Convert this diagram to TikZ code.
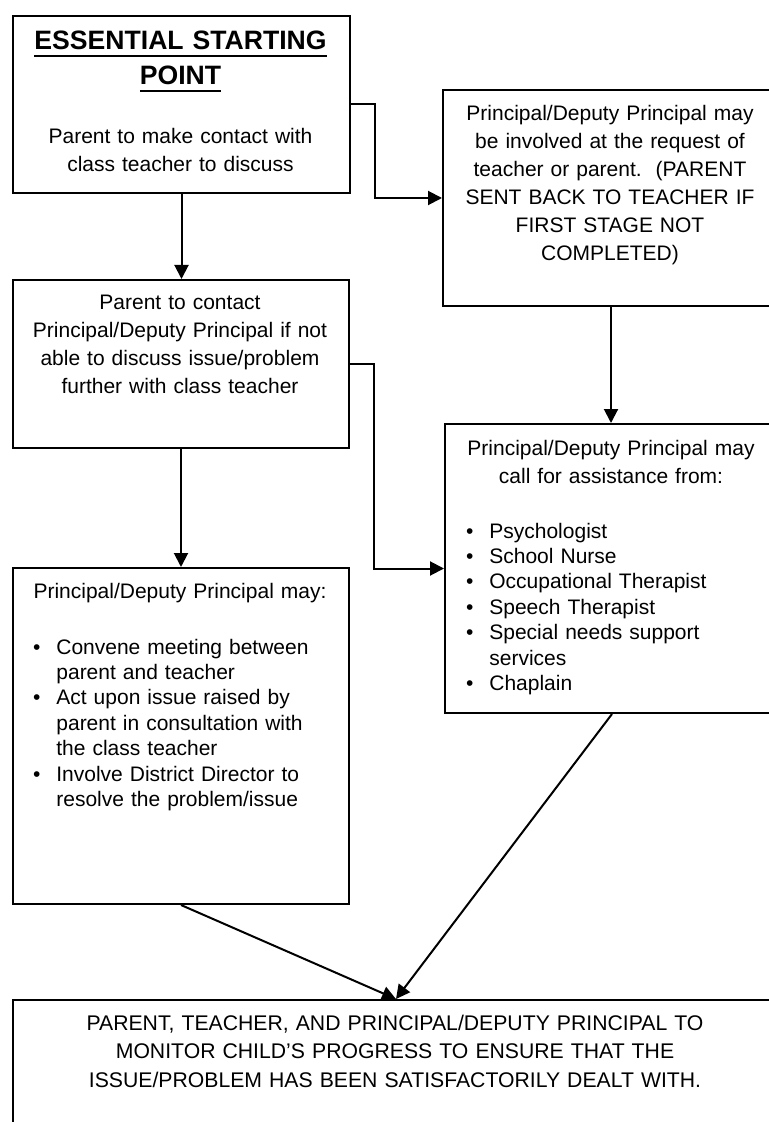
\documentclass[tikz,border=0pt]{standalone}
\usepackage{fontspec}
\setmainfont{Liberation Sans}
\usetikzlibrary{arrows.meta}
\newcommand\ulbox[1]{\leavevmode\setbox0=\hbox{#1}\rlap{\rule[-3.4pt]{\wd0}{0.9pt}}\box0}
\newcommand\bul{\leavevmode\llap{\textbullet\hspace{8pt}}}
\begin{document}
\begin{tikzpicture}[x=0.5pt,y=-0.5pt,
  box/.style={draw, line width=1pt, inner sep=0pt, anchor=north west},
  txt/.style={inner sep=0pt, anchor=base, align=center, text width=#1,
    font=\fontsize{10.5}{14}\selectfont},
  txt/.default=165pt,
  lst/.style={inner sep=0pt, anchor=base west, align=left, text width=150pt,
    font=\fontsize{10.5}{12.7}\selectfont},
  ttl/.style={inner sep=0pt, anchor=base, align=center, text width=165pt,
    font=\fontsize{13.3}{17.5}\selectfont\bfseries},
  arr/.style={line width=1pt, -{Triangle[length=7pt,width=7pt]}}
]
\useasboundingbox (0,0) rectangle (769,1122);
\clip (0,0) rectangle (769,1122);

% boxes
\node[box, minimum width=168.5pt, minimum height=88.5pt] (b1) at (12,15) {};
\node[box, minimum width=168pt, minimum height=108pt] (b2) at (442,89) {};
\node[box, minimum width=168pt, minimum height=84pt] (b3) at (12,279) {};
\node[box, minimum width=167pt, minimum height=144.5pt] (b4) at (444,423) {};
\node[box, minimum width=168pt, minimum height=168pt] (b5) at (12,567) {};
\node[box, minimum width=383pt, minimum height=70pt] (b6) at (12,999) {};

% texts
\node[ttl] (t1a) at (180.5,50) {\ulbox{ESSENTIAL STARTING}\\\ulbox{POINT}};
\node[txt] (t1b) at (180.5,144) {Parent to make contact with\\class teacher to discuss};
\node[txt] (t2) at (610,121) {Principal/Deputy Principal may\\be involved at the request of\\teacher or parent.\ \ (PARENT\\SENT BACK TO TEACHER IF\\FIRST STAGE NOT\\COMPLETED)};
\node[txt] (t3) at (180,310) {Parent to contact\\Principal/Deputy Principal if not\\able to discuss issue/problem\\further with class teacher};
\node[txt] (t4a) at (611,455) {Principal/Deputy Principal may\\call for assistance from:};
\node[lst] (t4b) at (489,538) {\bul Psychologist\\
\bul School Nurse\\
\bul Occupational Therapist\\
\bul Speech Therapist\\
\bul Special needs support\\
services\\
\bul Chaplain};
\node[txt] (t5a) at (180,598) {Principal/Deputy Principal may:};
\node[lst] (t5b) at (56,654) {\bul Convene meeting between\\
parent and teacher\\
\bul Act upon issue raised by\\
parent in consultation with\\
the class teacher\\
\bul Involve District Director to\\
resolve the problem/issue};
\node[txt=370pt, font=\fontsize{10.6}{14.25}\selectfont] (t6) at (395,1030) {PARENT, TEACHER, AND PRINCIPAL/DEPUTY PRINCIPAL TO\\MONITOR CHILD’S PROGRESS TO ENSURE THAT THE\\ISSUE/PROBLEM HAS BEEN SATISFACTORILY DEALT WITH.};

% connectors
\draw[arr] (b1.east) -- ++(23.5,0) |- (b2.west);
\draw[arr] (b1.south) -- (b1.south |- b3.north);
\draw[arr] (b2.south) -- (b2.south |- b4.north);
\draw[arr] (b3.east) -- ++(23.5,0) |- (b4.west);
\draw[arr] (b3.south) -- (b3.south |- b5.north);
\draw[arr] (b5.south) -- (b6.north);
\draw[arr] (b4.south) -- (b6.north);
\end{tikzpicture}
\end{document}
